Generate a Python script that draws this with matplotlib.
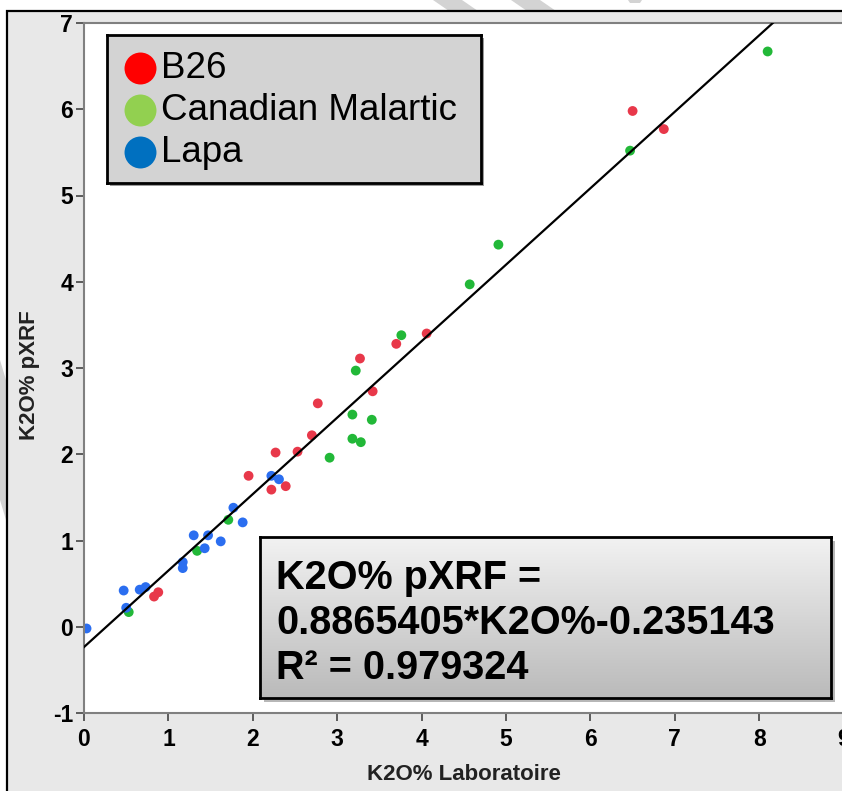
import numpy as np
import matplotlib
matplotlib.use("Agg")
import matplotlib.pyplot as plt
from matplotlib.patches import Rectangle, Polygon
from matplotlib.colors import LinearSegmentedColormap

plt.rcParams['font.family'] = ['Liberation Sans', 'DejaVu Sans']
plt.rcParams['axes.unicode_minus'] = False

# --- data ---
b26_x = [0.83, 0.88, 1.95, 2.22, 2.39, 2.27, 2.53, 2.70, 2.77, 3.27, 3.42, 3.70, 4.06, 6.50, 6.87]
b26_y = [0.35, 0.40, 1.75, 1.59, 1.63, 2.02, 2.03, 2.22, 2.59, 3.11, 2.73, 3.28, 3.40, 5.98, 5.77]

cm_x = [0.53, 1.34, 1.71, 2.91, 3.18, 3.18, 3.28, 3.41, 3.22, 3.76, 4.57, 4.91, 6.47, 8.10]
cm_y = [0.17, 0.88, 1.24, 1.96, 2.46, 2.18, 2.14, 2.40, 2.97, 3.38, 3.97, 4.43, 5.52, 6.67]

lapa_x = [0.03, 0.47, 0.50, 0.66, 0.73, 1.17, 1.17, 1.30, 1.43, 1.47, 1.62, 1.77, 1.88, 2.22, 2.31]
lapa_y = [-0.02, 0.42, 0.22, 0.43, 0.46, 0.75, 0.68, 1.06, 0.91, 1.06, 0.99, 1.38, 1.21, 1.75, 1.71]

slope = 0.8865405
intercept = -0.235143
r2 = 0.979324

groups = ['B26', 'Canadian Malartic', 'Lapa']
point_colors = ['#e8384a', '#22b838', '#2b6ef0']
legend_colors = ['#ff0000', '#92d050', '#0070c0']

W, H = 842, 791
fig = plt.figure(figsize=(W / 100, H / 100), dpi=100)


def fx(px):
    return px / W


def fy(py):
    return 1 - py / H


# watermark bits outside the frame
for pts in [[(433, 0), (462, 0), (478, 11), (449, 11)],
            [(511, 0), (540, 0), (556, 11), (527, 11)],
            [(628, 0), (642, 0), (640, 3), (630, 3)],
            [(0, 360), (6, 380), (6, 520), (0, 500)]]:
    fig.add_artist(Polygon([(fx(a), fy(b)) for a, b in pts], closed=True,
                           facecolor='#d3d3d3', edgecolor='none', zorder=-3))

# gray frame behind the chart
fig.add_artist(Rectangle((fx(7), -0.05), 1.1, fy(11) + 0.05, facecolor='#e8e8e8',
                         edgecolor='black', linewidth=1.6, zorder=-2))

ax = fig.add_axes([fx(84), fy(713), 759.6 / W, (713 - 23) / H])
ax.set_facecolor('white')

ax.scatter(b26_x, b26_y, s=50, color=point_colors[0], edgecolors='none', zorder=2)
ax.scatter(cm_x, cm_y, s=50, color=point_colors[1], edgecolors='none', zorder=2)
ax.scatter(lapa_x, lapa_y, s=50, color=point_colors[2], edgecolors='none', zorder=2)

xl = np.array([0, 9])
ax.plot(xl, slope * xl + intercept, color='black', lw=1.6, zorder=3)

ax.set_xlim(0, 9)
ax.set_ylim(-1, 7)
ax.set_xticks(range(0, 10))
ax.set_yticks(range(-1, 8))
ax.tick_params(direction='out', length=6, width=1.2, color='#444444', labelsize=16.5, pad=2)
ax.tick_params(axis='x', pad=5)
plt.setp(ax.get_xticklabels(), fontweight='bold')
plt.setp(ax.get_yticklabels(), fontweight='bold')
for s in ax.spines.values():
    s.set_color('#808080')
    s.set_linewidth(1.5)

ax.set_xlabel('K2O% Laboratoire', fontsize=16, fontweight='bold', color='#222222')
ax.set_ylabel('K2O% pXRF', fontsize=16, fontweight='bold', color='#222222')
ax.xaxis.set_label_coords(0.5, -0.074)
ax.yaxis.set_label_coords(-0.058, 0.49)

# legend box
fig.add_artist(Rectangle((fx(110), fy(186)), (481 - 107) / W, (183 - 35) / H,
                         facecolor='#9a9a9a', edgecolor='none', zorder=2))
lg = fig.add_axes([fx(107), fy(183), (481 - 107) / W, (183 - 35) / H], zorder=3)
lg.set_facecolor('#d3d3d3')
lg.set_xlim(0, 1)
lg.set_ylim(0, 1)
lg.set_xticks([])
lg.set_yticks([])
for s in lg.spines.values():
    s.set_linewidth(2)
    s.set_color('black')
rows = [68, 110, 152]
for name, col, ry in zip(groups, legend_colors, rows):
    yy = (183 - ry) / (183 - 35)
    lg.plot([(140 - 107) / (481 - 107)], [yy], 'o', ms=23, color=col, mec='none')
    lg.text((161 - 107) / (481 - 107), yy, name, fontsize=26.5, va='center', ha='left')

# equation box with gradient
fig.add_artist(Rectangle((fx(264), fy(702)), 571 / W, 161 / H,
                         facecolor='#888888', edgecolor='none', alpha=0.6, zorder=2))
eq = fig.add_axes([fx(260), fy(698), 571 / W, 161 / H], zorder=3)
grad = np.linspace(0, 1, 256).reshape(-1, 1)
cmap = LinearSegmentedColormap.from_list('g', ['#f2f2f2', '#bababa'])
eq.imshow(grad, aspect='auto', cmap=cmap, extent=[0, 1, 0, 1], origin='upper')
eq.set_xlim(0, 1)
eq.set_ylim(0, 1)
eq.set_xticks([])
eq.set_yticks([])
for s in eq.spines.values():
    s.set_linewidth(2)
    s.set_color('black')
lines = ['K2O% pXRF =',
         f'{slope:.7f}*K2O%{intercept:.6f}',
         f'R\u00b2 = {r2:.6f}']
for txt, base in zip(lines, [589, 634, 679]):
    eq.text((276 - 260) / 571, (698 - base) / 161, txt, fontsize=28.5,
            fontweight='bold', va='baseline', ha='left', color='black')

fig.savefig('out.png', dpi=100)
